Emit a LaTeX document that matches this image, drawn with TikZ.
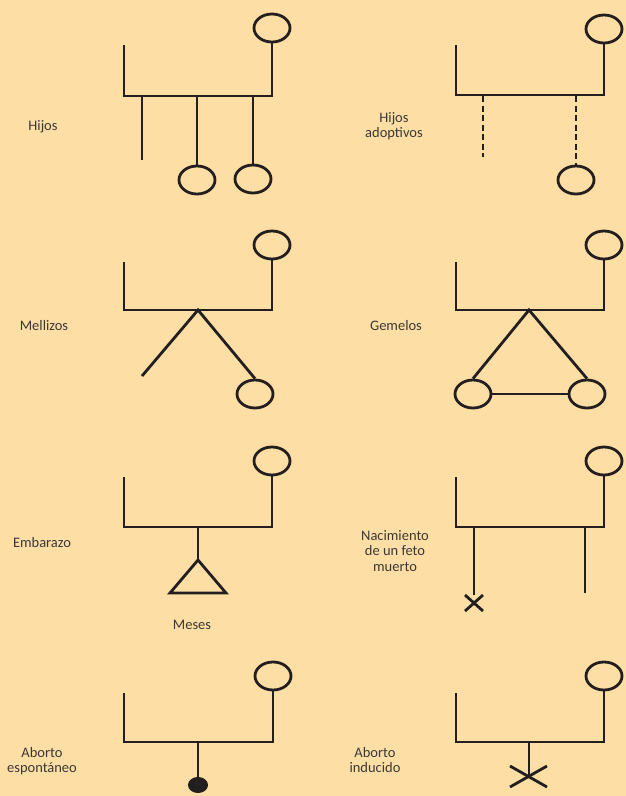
\documentclass[tikz,border=0pt]{standalone}
\usepackage{fontspec}
\setmainfont{Carlito}
\usetikzlibrary{shapes.geometric}
\definecolor{bg}{RGB}{253,223,165}
\definecolor{ink}{RGB}{35,31,32}
\definecolor{txt}{RGB}{58,56,56}
\tikzset{
  ln/.style={line width=2.8pt, draw=ink, line join=miter},
  dsh/.style={ln, dash pattern=on 6pt off 3.5pt},
  pers/.style={ellipse, draw=ink, line width=2.8pt, minimum width=36pt, minimum height=28pt, inner sep=0pt},
  dead/.style={ellipse, fill=ink, draw=ink, line width=1pt, minimum width=19pt, minimum height=15pt, inner sep=0pt},
  lbl/.style={text=txt, align=center, font=\fontsize{14.5}{15.5}\selectfont, inner sep=0pt}
}
\begin{document}
\begin{tikzpicture}[x=1pt,y=-1pt]
\fill[bg] (0,0) rectangle (626,796);
\useasboundingbox (0,0) rectangle (626,796);

% ---------- Panel 1: Hijos ----------
\node[lbl] (t1) at (43,127) {Hijos};
\node[pers] (m1) at (272,28) {};
\coordinate (f1) at (124,45);
\coordinate (l1) at (124,96);
\coordinate (r1) at (272,96);
\draw[ln] (f1) -- (l1) -- (r1) -- (m1.south);
\node[pers] (c1a) at (197,180) {};
\node[pers] (c1b) at (253,179) {};
\coordinate (s1a) at (142,96);
\coordinate (e1a) at (142,160);
\coordinate (s1b) at (197,96);
\coordinate (s1c) at (253,96);
\draw[ln] (s1a) -- (e1a);
\draw[ln] (s1b) -- (c1a.north);
\draw[ln] (s1c) -- (c1b.north);

% ---------- Panel 2: Hijos adoptivos ----------
\node[lbl] (t2) at (394,126) {Hijos\\adoptivos};
\node[pers] (m2) at (604,29) {};
\coordinate (f2) at (456,45);
\coordinate (l2) at (456,95);
\coordinate (r2) at (604,95);
\draw[ln] (f2) -- (l2) -- (r2) -- (m2.south);
\node[pers] (c2) at (576,180) {};
\coordinate (s2a) at (483,96.4);
\coordinate (e2a) at (483,157);
\coordinate (s2b) at (576,96.4);
\draw[dsh] (s2a) -- (e2a);
\draw[dsh] (s2b) -- (c2.north);

% ---------- Panel 3: Mellizos ----------
\node[lbl] (t3) at (44,326) {Mellizos};
\node[pers] (m3) at (272,245) {};
\coordinate (f3) at (124,262);
\coordinate (l3) at (124,310);
\coordinate (r3) at (272,310);
\draw[ln] (f3) -- (l3) -- (r3) -- (m3.south);
\coordinate (a3) at (198,310);
\coordinate (e3) at (142,376);
\node[pers] (c3) at (255,394) {};
\draw[ln] (e3) -- (a3) -- (c3.north);

% ---------- Panel 4: Gemelos ----------
\node[lbl] (t4) at (396,326) {Gemelos};
\node[pers] (m4) at (604,245) {};
\coordinate (f4) at (456,262);
\coordinate (l4) at (456,310);
\coordinate (r4) at (604,310);
\draw[ln] (f4) -- (l4) -- (r4) -- (m4.south);
\coordinate (a4) at (529,310);
\node[pers] (c4a) at (473,394) {};
\node[pers] (c4b) at (587,394) {};
\draw[ln] (c4a.north) -- (a4) -- (c4b.north);
\draw[ln] (c4a.east) -- (c4b.west);

% ---------- Panel 5: Embarazo ----------
\node[lbl] (t5) at (42,543) {Embarazo};
\node[pers] (m5) at (272,461) {};
\coordinate (f5) at (124,477);
\coordinate (l5) at (124,527);
\coordinate (r5) at (272,527);
\draw[ln] (f5) -- (l5) -- (r5) -- (m5.south);
\coordinate (s5) at (198,527);
\coordinate (a5) at (198,560);
\coordinate (b5a) at (170,593);
\coordinate (b5b) at (226,593);
\draw[ln] (s5) -- (a5);
\draw[ln] (a5) -- (b5a) -- (b5b) -- cycle;
\node[lbl] (t5b) at (192,625) {Meses};

% ---------- Panel 6: Nacimiento de un feto muerto ----------
\node[lbl] (t6) at (395,551) {Nacimiento\\de un feto\\muerto};
\node[pers] (m6) at (604,461) {};
\coordinate (f6) at (456,477);
\coordinate (l6) at (456,527);
\coordinate (r6) at (604,527);
\draw[ln] (f6) -- (l6) -- (r6) -- (m6.south);
\coordinate (s6a) at (474,527);
\coordinate (e6a) at (474,595);
\coordinate (s6b) at (585,527);
\coordinate (e6b) at (585,593);
\draw[ln] (s6a) -- (e6a);
\draw[ln] (s6b) -- (e6b);
\coordinate (x6a) at (465,595);
\coordinate (x6b) at (483,611);
\coordinate (x6c) at (465,611);
\coordinate (x6d) at (483,595);
\draw[ln] (x6a) -- (x6b);
\draw[ln] (x6c) -- (x6d);

% ---------- Panel 7: Aborto espontaneo ----------
\node[lbl] (t7) at (42,761) {Aborto\\espontáneo};
\node[pers] (m7) at (273,676) {};
\coordinate (f7) at (124,693);
\coordinate (l7) at (124,742);
\coordinate (r7) at (273,742);
\draw[ln] (f7) -- (l7) -- (r7) -- (m7.south);
\coordinate (s7) at (198,742);
\node[dead] (d7) at (198,785) {};
\draw[ln] (s7) -- (d7.north);

% ---------- Panel 8: Aborto inducido ----------
\node[lbl] (t8) at (375,760) {Aborto\\inducido};
\node[pers] (m8) at (604,676) {};
\coordinate (f8) at (456,693);
\coordinate (l8) at (456,742);
\coordinate (r8) at (604,742);
\draw[ln] (f8) -- (l8) -- (r8) -- (m8.south);
\coordinate (s8) at (529,742);
\coordinate (e8) at (529,777);
\draw[ln] (s8) -- (e8);
\coordinate (x8a) at (510,766);
\coordinate (x8b) at (547,787);
\coordinate (x8c) at (510,787);
\coordinate (x8d) at (547,766);
\draw[ln] (x8a) -- (x8b);
\draw[ln] (x8c) -- (x8d);
\end{tikzpicture}
\end{document}
